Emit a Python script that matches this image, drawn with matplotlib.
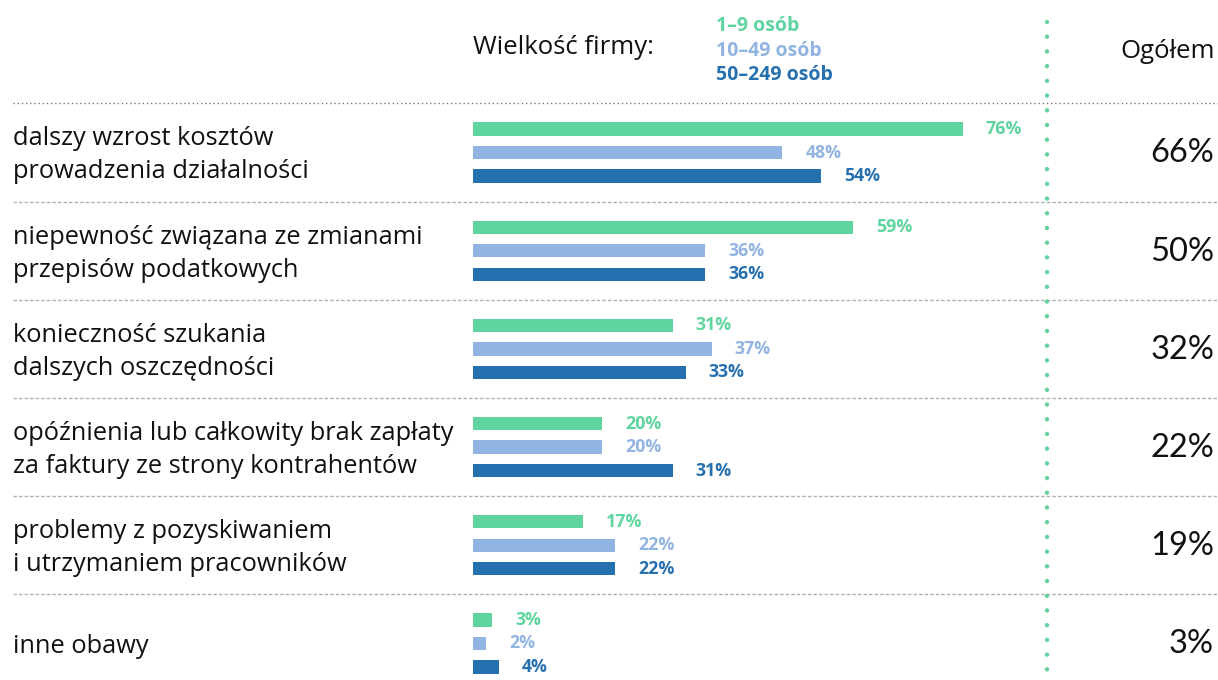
import matplotlib
matplotlib.use("Agg")
import matplotlib.pyplot as plt
import numpy as np

categories = [
    "dalszy wzrost kosztów\nprowadzenia działalności",
    "niepewność związana ze zmianami\nprzepisów podatkowych",
    "konieczność szukania\ndalszych oszczędności",
    "opóźnienia lub całkowity brak zapłaty\nza faktury ze strony kontrahentów",
    "problemy z pozyskiwaniem\ni utrzymaniem pracowników",
    "inne obawy",
]
series_names = ["1–9 osób", "10–49 osób", "50–249 osób"]
small = [76, 59, 31, 20, 17, 3]
medium = [48, 36, 37, 20, 22, 2]
large = [54, 36, 33, 31, 22, 4]
total = [66, 50, 32, 22, 19, 3]

colors = ["#5fd49f", "#92b4e2", "#2770b0"]
FONT = "Open Sans"
plt.rcParams['font.family'] = [FONT, 'DejaVu Sans']

W, H = 1218, 680
fig = plt.figure(figsize=(W / 100, H / 100), dpi=100)
ax = fig.add_axes([0, 0, 1, 1])

# pixel mapping: x_px = 473 + 6.447 * v ; group i center y_px = 152.5 + 98.2 * i
sx = 6.447
x0px = 473
ax.set_xlim((0 - x0px) / sx, (W - x0px) / sx)
gy = 98.2
c0 = 152.5
ax.set_ylim((H - c0) / gy, (0 - c0) / gy)
ax.axis("off")

def px2x(p):
    return (p - x0px) / sx

def px2y(p):
    return (p - c0) / gy

n = len(categories)
idx = np.arange(n)
offsets = [-0.24, 0.0, 0.24]
bh = 0.135
for s, (vals, off, col) in enumerate(zip([small, medium, large], offsets, colors)):
    ax.barh(idx + off, vals, height=bh, color=col, left=0)
    for i, v in enumerate(vals):
        ax.text(v + 23 / sx, i + off, f"{v}%", color=col, fontsize=12.8,
                fontweight="bold", va="center", ha="left")

# category labels and totals
for i, (c, t) in enumerate(zip(categories, total)):
    ax.text(px2x(13), i + 0.03, c, fontsize=18.3, va="center", ha="left",
            color="#111111", linespacing=1.42)
    ax.text(px2x(1214), i + 0.01, f"{t}%", fontsize=23.5, va="center", ha="right",
            color="#111111", family=["Lato", "DejaVu Sans"])

# separators
ax.plot([px2x(13), px2x(W)], [-0.5, -0.5], color="#777777", lw=1.0,
        linestyle=(0, (1, 2)))
for i in range(n - 1):
    ax.plot([px2x(13), px2x(W)], [i + 0.5, i + 0.5], color="#b0b0b0", lw=1.0,
            linestyle=(0, (2.5, 1.5)))

# vertical green dotted line
ax.plot([px2x(1047), px2x(1047)], [px2y(22), px2y(H)], color=colors[0], lw=3.2,
        linestyle=(0, (0.01, 3.3)), dash_capstyle="round")

# header
ax.text(px2x(473), px2y(47), "Wielkość firmy:", fontsize=18.5, va="center",
        ha="left", color="#111111")
for k, (name, col) in enumerate(zip(series_names, colors)):
    ax.text(px2x(716), px2y(26 + 24.5 * k), name, fontsize=14, fontweight="bold",
            color=col, va="center", ha="left")
ax.text(px2x(1215), px2y(52), "Ogółem", fontsize=18.5, va="center", ha="right",
        color="#111111")

fig.savefig("out.png", dpi=100, facecolor="white")
